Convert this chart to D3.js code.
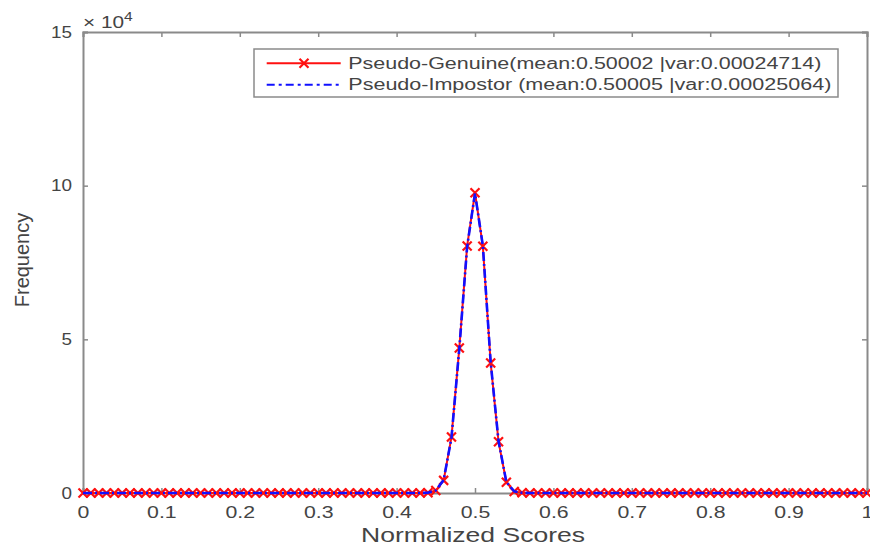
<!DOCTYPE html>
<html>
<head>
<meta charset="utf-8">
<script src="https://cdn.jsdelivr.net/npm/d3@7"></script>
<style>
  body { margin: 0; background: #fff; }
  text { font-family: "Liberation Sans", Arial, sans-serif; fill: #444; }
</style>
</head>
<body>
<div id="chart"></div>
<script>
// scores at 0.00, 0.01, ... 1.00
const scores = d3.range(0, 101).map(i => i / 100);

// frequency per bin, only the middle bins are non zero
const genuine = [
  0, 0, 0, 0, 0, 0, 0, 0, 0, 0,
  0, 0, 0, 0, 0, 0, 0, 0, 0, 0,
  0, 0, 0, 0, 0, 0, 0, 0, 0, 0,
  0, 0, 0, 0, 0, 0, 0, 0, 0, 0,
  0, 0, 0, 0, 100, 800, 4100, 18200, 47200, 80400,
  97700, 80300, 42300, 16700, 3500, 500, 60, 0, 0, 0,
  0, 0, 0, 0, 0, 0, 0, 0, 0, 0,
  0, 0, 0, 0, 0, 0, 0, 0, 0, 0,
  0, 0, 0, 0, 0, 0, 0, 0, 0, 0,
  0, 0, 0, 0, 0, 0, 0, 0, 0, 0,
  0
];
const impostor = [
  0, 0, 0, 0, 0, 0, 0, 0, 0, 0,
  0, 0, 0, 0, 0, 0, 0, 0, 0, 0,
  0, 0, 0, 0, 0, 0, 0, 0, 0, 0,
  0, 0, 0, 0, 0, 0, 0, 0, 0, 0,
  0, 0, 0, 0, 100, 850, 4200, 18000, 47000, 80200,
  97500, 80500, 42500, 16900, 3600, 520, 60, 0, 0, 0,
  0, 0, 0, 0, 0, 0, 0, 0, 0, 0,
  0, 0, 0, 0, 0, 0, 0, 0, 0, 0,
  0, 0, 0, 0, 0, 0, 0, 0, 0, 0,
  0, 0, 0, 0, 0, 0, 0, 0, 0, 0,
  0
];

const xTicks = [0, 0.1, 0.2, 0.3, 0.4, 0.5, 0.6, 0.7, 0.8, 0.9, 1];
const yTicks = [0, 5e4, 10e4, 15e4];
const legendLabels = [
  'Pseudo-Genuine(mean:0.50002 |var:0.00024714)',
  'Pseudo-Impostor (mean:0.50005 |var:0.00025064)'
];

const margin = { top: 32, right: 3, bottom: 53, left: 83 };
const width = 870 - margin.left - margin.right;
const height = 546 - margin.top - margin.bottom;

const x = d3.scaleLinear().domain([0, 1]).range([0, width]);
const y = d3.scaleLinear().domain([0, 15e4]).range([height, 0]);

const svg = d3.select('#chart')
  .append('svg')
  .attr('width', 870)
  .attr('height', 546)
  .append('g')
  .attr('transform', `translate(${margin.left},${margin.top})`);

const axisColor = '#8a8a8a';

// axes, ticks pointing inward like matlab
const xAxis = svg.append('g')
  .attr('transform', `translate(0,${height})`)
  .call(d3.axisBottom(x).tickValues(xTicks).tickSize(-5).tickPadding(13.5)
    .tickFormat(d => d === 0 || d === 1 ? d3.format('d')(d) : d3.format('.1f')(d)));
const xTop = svg.append('g')
  .call(d3.axisTop(x).tickValues(xTicks).tickSize(-5).tickFormat(''));
const yAxis = svg.append('g')
  .call(d3.axisLeft(y).tickValues(yTicks).tickSize(-5)
    .tickFormat(d => d / 1e4));
const yRight = svg.append('g')
  .attr('transform', `translate(${width},0)`)
  .call(d3.axisRight(y).tickValues(yTicks).tickSize(-5).tickFormat(''));

[xAxis, xTop, yAxis, yRight].forEach(g => {
  g.select('.domain').attr('stroke', axisColor).attr('stroke-width', 2);
  g.selectAll('.tick line').attr('stroke', axisColor).attr('stroke-width', 1.5);
  g.selectAll('.tick text').style('font-size', '16px').attr('fill', '#4a4a4a');
});
// the reference font is drawn wide
xAxis.selectAll('.tick text').attr('transform', 'scale(1.33,1)');
yAxis.selectAll('.tick text')
  .attr('x', 0)
  .attr('transform', 'translate(-11,0) scale(1.18,1)');

// exponent label
const expo = svg.append('text')
  .attr('transform', 'translate(0,-4) scale(1.3,1)')
  .style('font-size', '16px');
expo.append('tspan').text('\u00d7 10');
expo.append('tspan').attr('dy', -7).style('font-size', '12px').text('4');

// axis labels
svg.append('text')
  .attr('x', x(0.5) - 114).attr('y', height + 48.7)
  .attr('textLength', 224)
  .attr('lengthAdjust', 'spacingAndGlyphs')
  .style('font-size', '21px')
  .attr('fill', '#3a3a3a')
  .text('Normalized Scores');
svg.append('text')
  .attr('transform', `translate(-53.7,${260 - margin.top}) rotate(-90)`)
  .attr('text-anchor', 'middle')
  .style('font-size', '20px')
  .attr('fill', '#3a3a3a')
  .text('Frequency');

const lineG = d3.line().x((d, i) => x(scores[i])).y(d => y(d));

// red series with x markers
svg.append('path')
  .datum(genuine)
  .attr('d', lineG)
  .attr('fill', 'none')
  .attr('stroke', '#ff1010')
  .attr('stroke-width', 2);
svg.selectAll('.mark')
  .data(genuine)
  .enter()
  .append('path')
  .attr('class', 'mark')
  .attr('transform', (d, i) => `translate(${x(scores[i])},${y(d)})`)
  .attr('d', 'M-4.5,-4.5L4.5,4.5M-4.5,4.5L4.5,-4.5')
  .attr('stroke', '#ff1010')
  .attr('stroke-width', 2.2);

// blue dash-dot series on top
svg.append('path')
  .datum(impostor)
  .attr('d', lineG)
  .attr('fill', 'none')
  .attr('stroke', '#1010ff')
  .attr('stroke-width', 2.6)
  .attr('stroke-dasharray', '9,3,2,3');

// legend
const legend = svg.append('g').attr('transform', 'translate(171,17)');
legend.append('rect')
  .attr('width', 584).attr('height', 48)
  .attr('fill', '#fff')
  .attr('stroke', axisColor)
  .attr('stroke-width', 1.5);
const rows = legend.selectAll('.row')
  .data(legendLabels)
  .enter()
  .append('g')
  .attr('transform', (d, i) => `translate(0,${14.3 + i * 21.4})`);
rows.append('line')
  .attr('x1', 12.7).attr('x2', 86.7)
  .attr('stroke', (d, i) => i === 0 ? '#ff1010' : '#1010ff')
  .attr('stroke-width', 2)
  .attr('stroke-dasharray', (d, i) => i === 0 ? null : '8,4,3,4');
rows.filter((d, i) => i === 0).append('path')
  .attr('d', 'M45.5,-4.5L54.5,4.5M45.5,4.5L54.5,-4.5')
  .attr('stroke', '#ff1010')
  .attr('stroke-width', 2.2);
rows.append('text')
  .attr('x', 94.3).attr('dy', '0.35em')
  .attr('textLength', (d, i) => i === 0 ? 473 : 483)
  .attr('lengthAdjust', 'spacingAndGlyphs')
  .style('font-size', '16px')
  .attr('fill', '#333')
  .text(d => d);
</script>
</body>
</html>
